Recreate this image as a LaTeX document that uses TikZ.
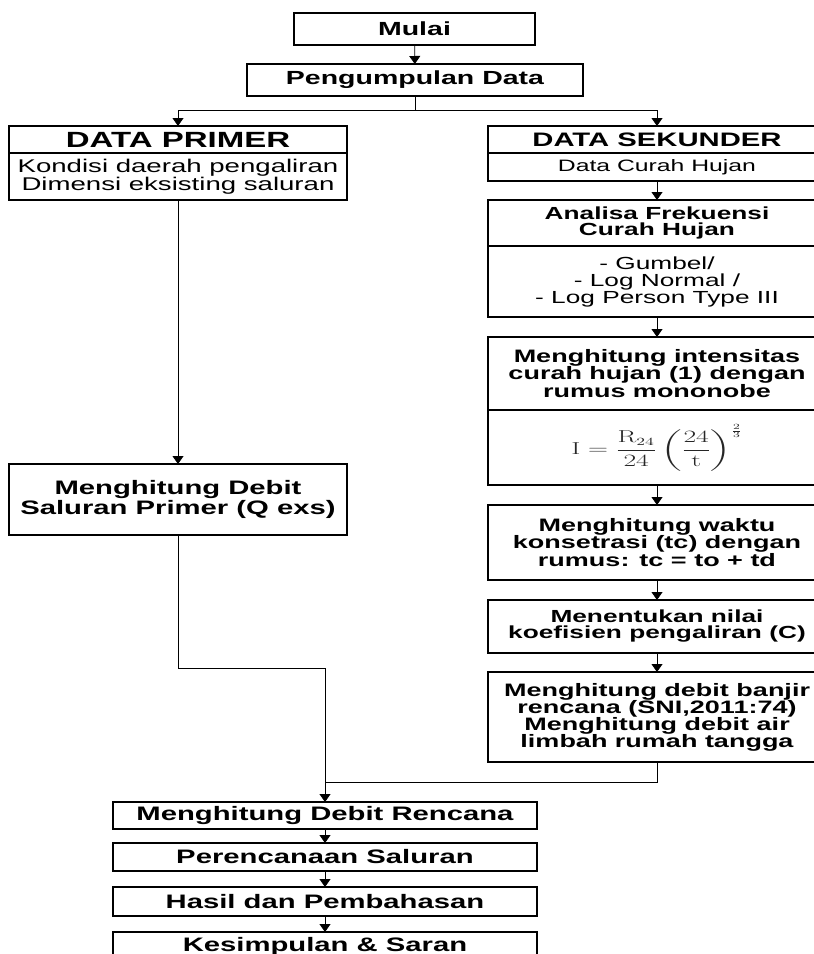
\documentclass[tikz,border=0pt]{standalone}
\usepackage{amsmath}
\usepackage[no-math]{fontspec}
\setmainfont{Liberation Sans}[FakeStretch=1.5]
\usepackage{tikz}
\usetikzlibrary{arrows.meta}

\begin{document}
\begin{tikzpicture}[x=1pt, y=-1pt,
    box/.style={draw, line width=1.1pt, minimum width=338pt, inner sep=0pt, outer sep=0pt, align=center},
    judul/.style={box, font=\bfseries\fontsize{18}{16}\selectfont},
    isi/.style={box, font=\fontsize{17.5}{17}\selectfont},
    arr/.style={-{Triangle[length=8pt,width=11pt]}, line width=0.8pt},
    lin/.style={line width=0.8pt}]
    \useasboundingbox (0,0) rectangle (814,954);
    \clip (0,0) rectangle (814,954);
    % atas
    \node[judul, minimum width=241pt, minimum height=32pt, font=\bfseries\fontsize{19}{19}\selectfont] (mulai) at (414.5,29) {Mulai};
    \node[judul, minimum width=336pt, minimum height=32pt, font=\bfseries\fontsize{19}{19}\selectfont] (kumpul) at (415,80) {Pengumpulan Data};
    \coordinate (cabang) at (415,110);
    % kiri
    \node[judul, minimum height=27pt, font=\bfseries\fontsize{22}{22}\selectfont] (primer) at (178,139.5) {DATA PRIMER};
    \node[isi, minimum height=47pt, font=\fontsize{18.4}{16}\selectfont] (primerket) at (178,176.5) {Kondisi daerah pengaliran\\Dimensi eksisting saluran};
    \node[judul, minimum height=71pt, font=\bfseries\fontsize{19.5}{18}\selectfont] (debitp) at (178,499.5) {Menghitung Debit\\Saluran Primer (Q exs)};
    \coordinate (belok) at (178,668);
    % kanan
    \node[judul, minimum height=27pt, font=\bfseries\fontsize{19.5}{19}\selectfont] (sekunder) at (657,139.5) {DATA SEKUNDER};
    \node[isi, minimum height=28pt, font=\fontsize{16.5}{17}\selectfont] (sekunderket) at (657,167) {Data Curah Hujan};
    \node[judul, minimum height=46pt, font=\bfseries\fontsize{17.5}{16}\selectfont] (analisa) at (657,223) {Analisa Frekuensi\\Curah Hujan};
    \node[isi, minimum height=71pt] (metode) at (657,281.5) {- Gumbel/\\- Log Normal /\\- Log Person Type III};
    \node[judul, minimum height=73pt] (intens) at (657,373.5) {Menghitung intensitas\\curah hujan (1) dengan\\rumus mononobe};
    \node[box, minimum height=75pt, font=\fontsize{16}{18}\selectfont, text=black!85] (rumus) at (657,447.5)
        {\scalebox{1.6}[1]{$\mathrm{I}=\dfrac{\mathrm{R}_{24}}{24}\left(\dfrac{24}{\mathrm{t}}\right)^{\frac{2}{3}}$}};
    \node[judul, minimum height=75pt] (waktu) at (657,542.5) {Menghitung waktu\\konsetrasi (tc) dengan\\rumus: tc = to + td};
    \node[judul, minimum height=53pt, font=\bfseries\fontsize{17.5}{16}\selectfont] (koef) at (657,626.5) {Menentukan nilai\\koefisien pengaliran (C)};
    \node[judul, minimum height=90pt, font=\bfseries\fontsize{18}{17}\selectfont] (banjir) at (657,717) {Menghitung debit banjir\\rencana (SNI,2011:74)\\Menghitung debit air\\limbah rumah tangga};
    \coordinate (gabung) at (325,782);
    % bawah
    \node[judul, minimum width=424pt, minimum height=27pt, font=\bfseries\fontsize{19.5}{19}\selectfont] (rencana) at (325,815.5) {Menghitung Debit Rencana};
    \node[judul, minimum width=424pt, minimum height=28pt, font=\bfseries\fontsize{19.5}{19}\selectfont] (saluran) at (325,857) {Perencanaan Saluran};
    \node[judul, minimum width=424pt, minimum height=29pt, font=\bfseries\fontsize{19.5}{19}\selectfont] (hasil) at (325,901.5) {Hasil dan Pembahasan};
    \node[judul, minimum width=424pt, minimum height=29pt, font=\bfseries\fontsize{19.5}{19}\selectfont] (simpul) at (325,946.5) {Kesimpulan \& Saran};
    % garis
    \draw[arr] (mulai) -- (kumpul);
    \draw[lin] (kumpul) -- (cabang);
    \draw[arr] (cabang) -| (primer);
    \draw[arr] (cabang) -| (sekunder);
    \draw[arr] (primerket) -- (debitp);
    \draw[lin] (debitp) -- (belok);
    \draw[arr] (belok) -| (rencana);
    \draw[arr] (sekunderket) -- (analisa);
    \draw[arr] (metode) -- (intens);
    \draw[arr] (rumus) -- (waktu);
    \draw[arr] (waktu) -- (koef);
    \draw[arr] (koef) -- (banjir);
    \draw[lin] (banjir) |- (gabung);
    \draw[arr] (rencana) -- (saluran);
    \draw[arr] (saluran) -- (hasil);
    \draw[arr] (hasil) -- (simpul);
\end{tikzpicture}
\end{document}
